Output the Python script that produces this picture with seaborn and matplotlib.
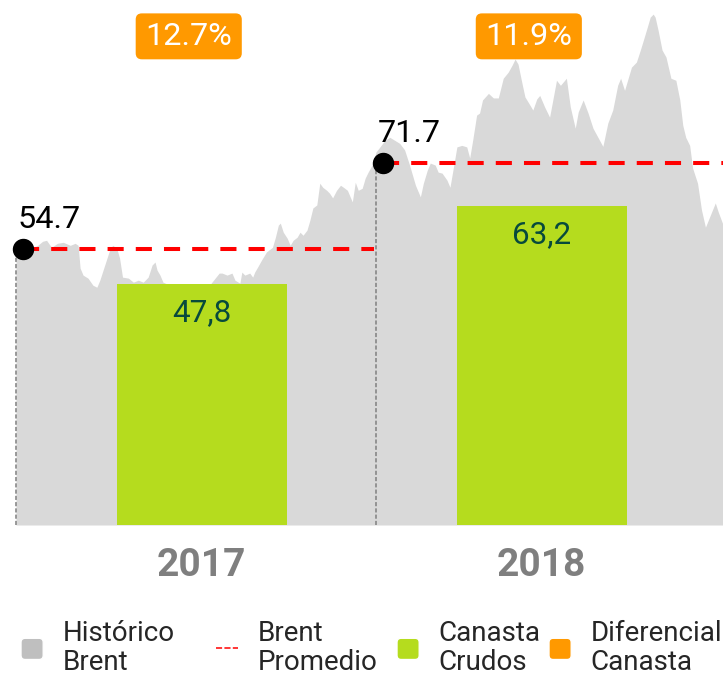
import pandas as pd
import matplotlib
matplotlib.use("Agg")
import matplotlib.pyplot as plt
from matplotlib.patches import Patch, FancyBboxPatch
from matplotlib.lines import Line2D
from matplotlib.legend_handler import HandlerPatch
import seaborn as sns


anios = ["2017", "2018"]
brent_promedio = [54.7, 71.7]
canasta_crudos = [47.8, 63.2]
diferencial = [12.7, 11.9]

# historico brent: dias desde el 01-01-2017 y precio
dias = [0, 11, 17, 22, 27, 31, 36, 42, 48, 55,
        60, 63, 65, 68, 73, 78, 82, 85, 90, 95,
        98, 102, 105, 108, 114, 119, 124, 129, 134, 138,
        141, 143, 146, 149, 156, 166, 176, 187, 197, 206,
        209, 214, 219, 222, 227, 229, 232, 237, 240, 242,
        245, 249, 254, 260, 263, 266, 268, 271, 275, 278,
        281, 285, 288, 291, 295, 298, 301, 305, 308, 311,
        315, 318, 321, 325, 329, 332, 336, 341, 344, 347,
        351, 354, 357, 361, 365, 369, 374, 379, 384, 389,
        394, 399, 405, 410, 413, 417, 420, 425, 428, 432,
        437, 440, 443, 447, 452, 457, 460, 463, 467, 470,
        473, 479, 484, 489, 494, 499, 503, 506, 509, 513,
        516, 521, 524, 528, 531, 536, 541, 548, 552, 558,
        562, 567, 570, 575, 580, 585, 590, 595, 600, 605,
        610, 613, 617, 624, 629, 633, 636, 640, 643, 646,
        648, 651, 655, 659, 664, 669, 673, 676, 679, 683,
        686, 691, 695, 699, 704, 709, 712, 717]
brent = [55.0, 55.8, 54.9, 55.4, 56.2, 56.4, 55.0, 55.8, 56.0, 55.4,
         55.8, 55.4, 50.9, 49.5, 48.9, 47.5, 47.1, 48.5, 51.5, 54.5,
         55.4, 54.9, 52.9, 49.1, 48.9, 48.1, 48.5, 48.1, 49.1, 51.5,
         52.1, 50.5, 49.5, 48.1, 47.5, 46.9, 46.5, 47.1, 47.7, 49.9,
         49.9, 49.5, 49.9, 48.5, 47.9, 50.1, 49.5, 49.9, 49.1, 50.1,
         51.1, 52.5, 54.1, 55.0, 57.0, 59.4, 59.8, 58.0, 56.8, 55.4,
         56.4, 57.0, 58.0, 57.4, 58.4, 60.4, 62.8, 63.4, 67.7, 66.9,
         66.3, 65.7, 64.8, 66.3, 67.3, 66.9, 66.3, 64.0, 67.9, 66.3,
         66.7, 68.7, 69.9, 71.3, 73.9, 74.9, 76.2, 76.8, 76.2, 75.6,
         74.3, 71.3, 67.3, 65.0, 67.7, 70.3, 71.7, 71.3, 69.9, 69.7,
         68.3, 66.9, 70.3, 74.9, 75.2, 74.9, 72.7, 76.2, 81.2, 81.6,
         84.2, 85.5, 84.6, 84.6, 88.5, 89.7, 91.1, 92.3, 91.3, 87.5,
         84.8, 83.2, 82.2, 84.4, 85.1, 82.8, 80.8, 88.1, 87.1, 88.5,
         82.8, 78.6, 81.8, 84.2, 81.6, 78.6, 76.8, 75.0, 79.6, 82.2,
         87.1, 88.5, 86.1, 90.7, 91.7, 94.1, 96.0, 98.6, 100.6, 101.2,
         100.6, 98.0, 94.1, 92.7, 88.5, 88.1, 84.2, 79.2, 76.8, 75.2,
         70.7, 67.7, 62.4, 59.0, 61.4, 63.8, 62.0, 59.4]

leyenda = ["Histórico\nBrent", "Brent\nPromedio", "Canasta\nCrudos",
           "Diferencial\nCanasta"]

GRIS = "#d9d9d9"
GRIS_LEYENDA = "#bfbfbf"
VERDE = "#b5dc1e"
NARANJA = "#ff9900"
ROJO = "#ff0000"
TEXTO_BARRA = "#074a3c"


def caja_redonda(legend, orig_handle, xdescent, ydescent, width, height, fontsize):
    return FancyBboxPatch((-xdescent, -ydescent), width, height,
                          boxstyle="round,pad=0,rounding_size=3")


def main():
    sns.set_style("white")
    plt.rcParams["font.family"] = ["Roboto", "DejaVu Sans"]

    fig = plt.figure(figsize=(7.23, 6.75), dpi=100)
    ax = fig.add_axes([0, 150 / 675, 1, 525 / 675])
    ax_t = ax.twiny()
    ax.set_zorder(2)
    ax_t.set_zorder(1)
    ax.patch.set_visible(False)

    # historico brent sobre eje de tiempo
    serie = pd.DataFrame({"dia": dias, "brent": brent})
    ax_t.fill_between(serie["dia"], serie["brent"], color=GRIS, lw=0, zorder=1)
    for i, v in enumerate(brent_promedio):
        inicio = 365 * i
        fin = inicio + 363 if i < len(anios) - 1 else 760
        ax_t.plot([inicio, inicio], [0, v], color="#7f7f7f", lw=1.1,
                  ls=(0, (2.7, 1.4)), zorder=2)
        ax_t.plot([inicio + 7, fin], [v, v], color=ROJO, lw=2.9,
                  ls=(0, (4, 3)), zorder=3)
        ax_t.plot(inicio + 7, v, "o", color="black", ms=14.4, zorder=4)
        ax_t.text(inicio + 2, v + 4.2, f"{v:.1f}", fontsize=23.3, color="black",
                  ha="left", va="baseline", zorder=5)
    ax_t.set_xlim(-16.2, 716.8)
    ax_t.axis("off")

    # canasta crudos sobre eje categorico
    sns.barplot(x=anios, y=canasta_crudos, color=VERDE, saturation=1,
                width=0.5, linewidth=0, ax=ax, zorder=3)
    ax.bar_label(ax.containers[0],
                 labels=[f"{v:.1f}".replace(".", ",") for v in canasta_crudos],
                 padding=-31, fontsize=22.6, color=TEXTO_BARRA)

    for i, d in enumerate(diferencial):
        cx = i - 0.038
        ax.add_patch(FancyBboxPatch((cx - 0.156, 92.25), 0.312, 9.1,
                                    boxstyle="round,pad=0,rounding_size=0.018",
                                    mutation_aspect=67.3, fc=NARANJA, ec="none",
                                    zorder=5, clip_on=False))
        ax.text(cx, 96.8, f"{d:.1f}%", fontsize=23.3, color="white",
                ha="center", va="center", zorder=6)

    ax.set_xlim(-0.593, 1.533)
    ax.set_ylim(0, 104)
    ax.set_yticks([])
    ax.set_xlabel("")
    ax.set_ylabel("")
    ax.tick_params(axis="x", length=0, pad=16, labelsize=28, labelcolor="#7f7f7f")
    for lbl in ax.get_xticklabels():
        lbl.set_fontweight("bold")
    sns.despine(ax=ax, left=True, bottom=True)

    handles = [Patch(facecolor=GRIS_LEYENDA),
               Line2D([0], [0], color=ROJO, lw=1.1, ls=(0, (4, 1.5))),
               Patch(facecolor=VERDE),
               Patch(facecolor=NARANJA)]
    x_leyenda = [21, 216, 397, 549]
    for h, lab, xl in zip(handles, leyenda, x_leyenda):
        leg = fig.legend([h], [lab], loc="upper left",
                         bbox_to_anchor=(xl / 723, 1 - 620 / 675),
                         frameon=False, fontsize=20, handlelength=0.8,
                         handleheight=0.8, handletextpad=0.7,
                         borderpad=0, borderaxespad=0,
                         handler_map={Patch: HandlerPatch(patch_func=caja_redonda)})
        for t in leg.get_texts():
            t.set_linespacing(1.1)

    fig.savefig("out.png", dpi=100)


if __name__ == "__main__":
    main()
